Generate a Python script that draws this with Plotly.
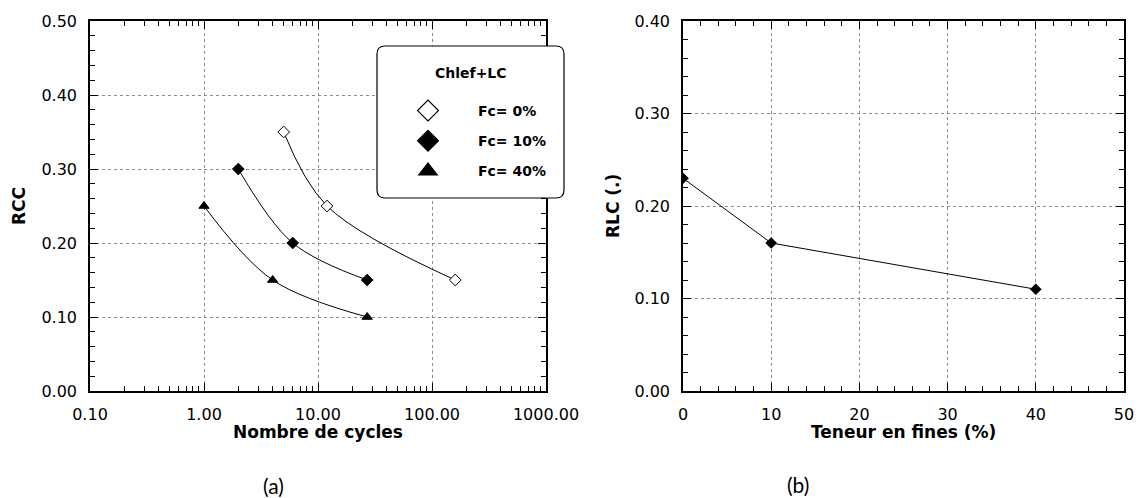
import plotly.graph_objects as go

W, H = 1139, 498


def px(x):
    return x / W


def py(y):
    return 1 - y / H


# ---------------- data ----------------
series_names = ["Fc= 0%", "Fc= 10%", "Fc= 40%"]
cycles_fc0 = [5, 12, 160]
rcc_fc0 = [0.35, 0.25, 0.15]
cycles_fc10 = [2, 6, 27]
rcc_fc10 = [0.30, 0.20, 0.15]
cycles_fc40 = [1, 4, 27]
rcc_fc40 = [0.25, 0.15, 0.10]

fines_content = [0, 10, 40]
rlc_values = [0.23, 0.16, 0.11]

legend_title = "Chlef+LC"

# ---------------- styles ----------------
TICK_FONT = dict(family="DejaVu Sans", size=16, color="black")
TITLE_FONT = dict(family="DejaVu Sans", size=17, color="black", weight="bold")
GRID = dict(showgrid=True, gridcolor="#8c8c8c", gridwidth=1, griddash="dot")

symbols = [
    dict(symbol="diamond", color="white", line=dict(color="black", width=1)),
    dict(symbol="diamond", color="black", line=dict(color="black", width=1)),
    dict(symbol="triangle-up", color="black", line=dict(color="black", width=1)),
]

fig = go.Figure()

xs = [cycles_fc0, cycles_fc10, cycles_fc40]
ys = [rcc_fc0, rcc_fc10, rcc_fc40]
for name, xv, yv, sym in zip(series_names, xs, ys, symbols):
    fig.add_trace(go.Scatter(
        x=xv, y=yv, mode="lines+markers", name=name, showlegend=False,
        line=dict(color="black", width=1, shape="spline", smoothing=1.0),
        marker=dict(size=9, **sym),
        xaxis="x", yaxis="y",
    ))

# legend-only entries (markers only, as in the reference legend)
for i, (name, sym) in enumerate(zip(series_names, symbols)):
    s = dict(sym)
    s["line"] = dict(color="black", width=1.2)
    fig.add_trace(go.Scatter(
        x=[None], y=[None], mode="markers", name=name, legendgroup=f"g{i}",
        marker=dict(size=16, **s), xaxis="x", yaxis="y",
    ))

fig.add_trace(go.Scatter(
    x=fines_content, y=rlc_values, mode="lines+markers", showlegend=False,
    line=dict(color="black", width=1),
    marker=dict(size=9, symbol="diamond", color="black"),
    xaxis="x2", yaxis="y2",
))

# ---------------- axes ----------------
L_x0, L_x1 = 90, 546
R_x0, R_x1 = 683, 1124
top, bottom = 21, 391

common = dict(
    showline=True, linecolor="black", linewidth=1.5, mirror="ticks",
    ticks="inside", ticklen=8, tickcolor="black", tickwidth=1,
    tickfont=TICK_FONT, zeroline=False, ticklabelstandoff=8,
    automargin=False,
    **GRID,
)

fig.update_layout(
    width=W, height=H,
    margin=dict(l=0, r=0, t=0, b=0, pad=0, autoexpand=False),
    paper_bgcolor="white", plot_bgcolor="white",
    xaxis=dict(
        domain=[px(L_x0), px(L_x1)], anchor="y", type="log",
        range=[-1, 3], dtick=1, tickformat=".2f",
        minor=dict(ticks="inside", ticklen=5, tickcolor="black", dtick="D1", showgrid=False),
        **common,
    ),
    yaxis=dict(
        domain=[py(bottom), py(top)], anchor="x",
        range=[0, 0.5], dtick=0.1, tick0=0, tickformat=".2f",
        minor=dict(ticks="inside", ticklen=5, tickcolor="black", dtick=0.02, showgrid=False),
        **common,
    ),
    xaxis2=dict(
        domain=[px(R_x0), px(R_x1)], anchor="y2",
        range=[0, 50], dtick=10, tick0=0,
        minor=dict(ticks="inside", ticklen=5, tickcolor="black", dtick=2, showgrid=False),
        **common,
    ),
    yaxis2=dict(
        domain=[py(bottom), py(top)], anchor="x2",
        range=[0, 0.4], dtick=0.1, tick0=0, tickformat=".2f",
        minor=dict(ticks="inside", ticklen=5, tickcolor="black", dtick=0.02, showgrid=False),
        **common,
    ),
    legend=dict(
        x=px(378), y=py(95), xanchor="left", yanchor="top",
        bgcolor="rgba(0,0,0,0)", borderwidth=0,
        itemwidth=90, tracegroupgap=9,
        font=dict(family="DejaVu Sans", size=14, color="black", weight="bold"),
    ),
    showlegend=True,
)

# rounded legend box
bx0, bx1, by0, by1, r = 377, 564, 46, 198, 8
path = (
    f"M {px(bx0 + r)} {py(by0)} L {px(bx1 - r)} {py(by0)} "
    f"Q {px(bx1)} {py(by0)} {px(bx1)} {py(by0 + r)} "
    f"L {px(bx1)} {py(by1 - r)} Q {px(bx1)} {py(by1)} {px(bx1 - r)} {py(by1)} "
    f"L {px(bx0 + r)} {py(by1)} Q {px(bx0)} {py(by1)} {px(bx0)} {py(by1 - r)} "
    f"L {px(bx0)} {py(by0 + r)} Q {px(bx0)} {py(by0)} {px(bx0 + r)} {py(by0)} Z"
)
fig.add_shape(type="path", path=path, xref="paper", yref="paper",
              fillcolor="white", line=dict(color="black", width=1.2), layer="above")

annotations = [
    dict(text=legend_title, x=px(471), y=py(73), font=dict(family="DejaVu Sans", size=14, color="black", weight="bold")),
    dict(text="Nombre de cycles", x=px(318), y=py(432), font=TITLE_FONT),
    dict(text="Teneur en fines (%)", x=px(903), y=py(432), font=TITLE_FONT),
    dict(text="RCC", x=px(19), y=py(206), textangle=-90, font=TITLE_FONT),
    dict(text="RLC (.)", x=px(613), y=py(206), textangle=-90, font=TITLE_FONT),
    dict(text="(a)", x=px(273), y=py(485), font=dict(family="Lato", size=21, color="black")),
    dict(text="(b)", x=px(798), y=py(484), font=dict(family="Lato", size=21, color="black")),
]
for a in annotations:
    fig.add_annotation(xref="paper", yref="paper", xanchor="center", yanchor="middle",
                       showarrow=False, **a)

fig.write_html("out.html")
